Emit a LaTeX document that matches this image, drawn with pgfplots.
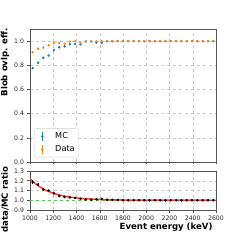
\documentclass[border=0pt]{standalone}
\usepackage{pgfplots}
\pgfplotsset{compat=1.18}
\usepackage{pgfplotstable}
\usepackage{fontspec}
\setmainfont{DejaVu Sans}
\definecolor{tabblue}{HTML}{1F77B4}
\definecolor{taborange}{HTML}{FF7F0E}
\definecolor{fitred}{HTML}{FF3B3B}
\definecolor{lgreen}{HTML}{5FBF5F}
\definecolor{spine}{HTML}{555555}

\pgfplotstableread{
x mc mce data datae ratio re
1022.86 0.776 0.008 0.908 0.006 1.185 0.020
1068.57 0.822 0.007 0.938 0.005 1.160 0.015
1114.29 0.862 0.006 0.946 0.005 1.110 0.012
1160.00 0.881 0.005 0.965 0.004 1.098 0.010
1205.71 0.924 0.005 0.984 0.004 1.070 0.008
1251.43 0.949 0.004 0.984 0.004 1.044 0.007
1297.14 0.957 0.004 0.978 0.004 1.033 0.006
1342.86 0.973 0.004 0.997 0.003 1.030 0.006
1388.57 0.976 0.003 0.998 0.003 1.025 0.005
1434.29 0.973 0.003 0.986 0.003 1.016 0.005
1480.00 0.997 0.003 0.998 0.003 1.008 0.004
1525.71 0.997 0.003 0.999 0.002 1.007 0.004
1571.43 0.986 0.003 0.999 0.002 1.010 0.004
1617.14 0.986 0.003 1.000 0.002 1.012 0.004
1662.86 0.998 0.002 1.000 0.002 1.005 0.003
1708.57 0.999 0.002 1.000 0.002 1.003 0.003
1754.29 1.000 0.002 1.000 0.002 1.002 0.003
1800.00 1.000 0.002 1.000 0.002 1.001 0.003
1845.71 1.000 0.002 1.000 0.002 1.000 0.003
1891.43 1.000 0.002 1.000 0.002 1.000 0.003
1937.14 1.000 0.002 1.000 0.002 1.000 0.003
1982.86 1.000 0.002 1.000 0.002 1.000 0.003
2028.57 1.000 0.002 1.000 0.002 1.000 0.003
2074.29 1.000 0.002 1.000 0.002 1.000 0.003
2120.00 1.000 0.002 1.000 0.002 1.000 0.003
2165.71 1.000 0.002 1.000 0.002 1.000 0.003
2211.43 1.000 0.002 1.000 0.002 1.000 0.003
2257.14 1.000 0.002 1.000 0.002 1.000 0.003
2302.86 1.000 0.002 1.000 0.002 1.000 0.003
2348.57 1.000 0.002 1.000 0.002 1.000 0.003
2394.29 1.000 0.002 1.000 0.002 1.000 0.003
2440.00 1.000 0.002 1.000 0.002 1.000 0.003
2485.71 1.000 0.002 1.000 0.002 1.000 0.003
2531.43 1.000 0.002 1.000 0.002 1.000 0.003
2577.14 1.000 0.002 1.000 0.002 1.000 0.003
}\tbl

\pgfplotstableread{
x f
1000 1.2200
1050 1.1667
1100 1.1262
1150 1.0956
1200 1.0724
1250 1.0549
1300 1.0416
1350 1.0315
1400 1.0238
1450 1.0181
1500 1.0137
1600 1.0079
1700 1.0045
1800 1.0026
1900 1.0015
2000 1.0008
2200 1.0003
2400 1.0001
2600 1.0000
}\fit

\pgfplotsset{
  common/.style={
    scale only axis, width=186bp,
    xmin=1000, xmax=2600,
    xtick={1000,1200,...,2600},
    grid=major,
    major grid style={dashed, gray!45, line width=0.4pt},
    axis line style={spine, line width=0.6pt},
    tick align=outside, tick pos=left,
    major tick length=2.5bp,
    tick style={spine, line width=0.5pt},
    tick label style={font=\fontsize{6.2}{7}\selectfont, text=black!85},
    /pgf/number format/assume math mode=true,
    label style={font=\fontsize{8.6}{10}\selectfont\bfseries},
  },
  erimg/.style={legend image code/.code={
    \path[draw=none, fill=none] (0,0) -- (1.7em,0);
    \draw[##1, line width=0.6pt] (0.6em,-0.45em) -- (0.6em,0.45em);
    \fill[##1] (0.6em,0) circle (1pt);}},
}

\begin{document}
\begin{tikzpicture}
\useasboundingbox (0,0) rectangle (240bp,240bp);
\begin{axis}[common,
  at={(30bp,78bp)}, anchor=south west, height=133bp,
  ymin=0, ymax=1.1, ytick={0,0.2,...,1.0},
  yticklabel style={/pgf/number format/.cd, fixed, fixed zerofill, precision=1},
  xticklabels={},
  ylabel={Blob ovlp. eff.},
  ylabel style={at={(axis description cs:-0.134,0.75)}, anchor=center},
  legend style={at={(rel axis cs:0.022,0.035)}, anchor=south west,
    font=\fontsize{8.2}{9.5}\selectfont, draw=gray!40, rounded corners=2pt,
    inner xsep=2pt, inner ysep=2pt, row sep=1.5pt, cells={anchor=west}},
  legend cell align=left,
]
\addplot[only marks, mark=*, mark size=1pt, tabblue, erimg,
  error bars/.cd, y dir=both, y explicit, error mark=none,
  error bar style={line width=0.5pt}]
  table[x=x, y=mc, y error=mce] {\tbl};
\addlegendentry{MC}
\addplot[only marks, mark=*, mark size=1pt, taborange, erimg,
  error bars/.cd, y dir=both, y explicit, error mark=none,
  error bar style={line width=0.5pt}]
  table[x=x, y=data, y error=datae] {\tbl};
\addlegendentry{Data}
\end{axis}

\begin{axis}[common,
  at={(30bp,30bp)}, anchor=south west, height=39bp,
  ymin=0.9, ymax=1.3, ytick={0.9,1.0,...,1.3},
  yticklabel style={/pgf/number format/.cd, fixed, fixed zerofill, precision=1},
  xticklabel style={/pgf/number format/.cd, 1000 sep={}},
  xlabel={Event energy (keV)},
  xlabel style={at={(rel axis cs:1,0)}, anchor=north east, yshift=-9bp},
  ylabel={data/MC ratio},
  ylabel style={at={(axis description cs:-0.134,0.26)}, anchor=center},
]
\addplot[lgreen, dashed, line width=0.9pt, forget plot] coordinates {(1000,1) (2600,1)};
\addplot[fitred, line width=1.5pt, smooth] table[x=x, y=f] {\fit};
\addplot[only marks, mark=*, mark size=1.1pt, black,
  error bars/.cd, y dir=both, y explicit, error mark=none,
  error bar style={line width=0.6pt}]
  table[x=x, y=ratio, y error=re] {\tbl};
\end{axis}
\end{tikzpicture}
\end{document}
